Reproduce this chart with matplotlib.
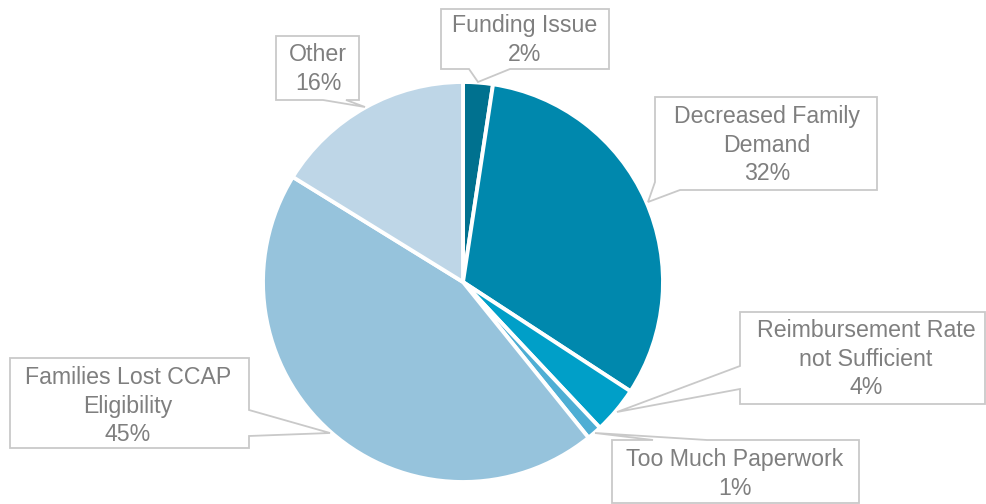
import matplotlib
matplotlib.use("Agg")
import matplotlib.pyplot as plt
from matplotlib.patches import Polygon

plt.rcParams['font.family'] = ['Liberation Sans', 'DejaVu Sans']

# data
categories = ["Funding Issue", "Decreased Family\nDemand",
              "Reimbursement Rate\nnot Sufficient", "Too Much Paperwork",
              "Families Lost CCAP\nEligibility", "Other"]
values = [2.4, 31.8, 3.8, 1.2, 44.6, 16.2]
colors = ["#00718f", "#0088ad", "#009fc8", "#4eaed4", "#96c3dc", "#bed6e7"]

W, H = 986, 504
fig = plt.figure(figsize=(W / 100, H / 100), dpi=100)
ax = fig.add_axes([0, 0, 1, 1])

cx, cy, r = 463, H - 282, 200
ax.pie(values, colors=colors, startangle=90, counterclock=False,
       center=(cx, cy), radius=r, frame=True,
       wedgeprops=dict(edgecolor="white", linewidth=2.8))
ax.set_xlim(0, W)
ax.set_ylim(0, H)
ax.set_aspect("equal")
ax.axis("off")


def yy(p):
    return [(x, H - y) for x, y in p]


# callout outlines in pixel coords (x, y from top), tail points included
callouts = [
    # funding issue
    [(441, 9), (609, 9), (609, 69), (510, 69), (478, 82), (469, 69), (441, 69)],
    # decreased family demand
    [(655, 97), (877, 97), (877, 190), (680, 190), (648, 202), (655, 182)],
    # reimbursement
    [(740, 312), (985, 312), (985, 404), (740, 404), (740, 389), (617, 412),
     (740, 366)],
    # paperwork
    [(612, 440), (653, 440), (595, 433), (707, 440), (859, 440), (859, 503),
     (612, 503)],
    # families lost
    [(10, 358), (249, 358), (249, 410), (330, 433), (249, 436), (249, 448),
     (10, 448)],
    # other
    [(276, 36), (359, 36), (359, 100), (346, 100), (365, 107), (323, 100),
     (276, 100)],
]
text_pos = [(525, 40), (767, 145), (866, 359), (735, 474), (128, 406), (318, 69)]

for pts, (tx, ty), cat, v in zip(callouts, text_pos, categories, values):
    ax.add_patch(Polygon(yy(pts), closed=True, facecolor="white",
                         edgecolor="#c9c9c9", linewidth=1.3, zorder=3))
    ax.text(tx, H - ty, "{}\n{:.0f}%".format(cat, v), ha="center", va="center",
            fontsize=16.7, color="#7f7f7f", linespacing=1.33, zorder=4)

fig.savefig("out.png", dpi=100)
